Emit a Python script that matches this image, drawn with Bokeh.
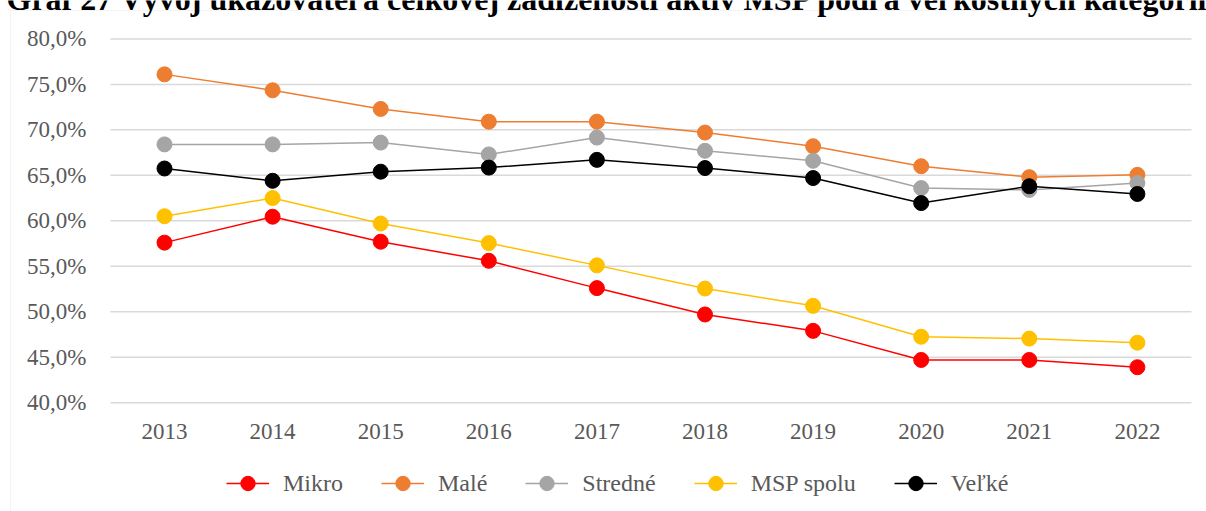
from bokeh.plotting import figure
from bokeh.models import (Range1d, FixedTicker, Legend, LegendItem, Label,
                          BoxAnnotation)
from bokeh.embed import file_html
from bokeh.resources import INLINE

# ---- data ----
years = [2013, 2014, 2015, 2016, 2017, 2018, 2019, 2020, 2021, 2022]
mikro = [57.6, 60.45, 57.7, 55.6, 52.6, 49.7, 47.9, 44.7, 44.7, 43.9]
male = [76.1, 74.35, 72.3, 70.9, 70.9, 69.7, 68.2, 66.0, 64.8, 65.05]
stredne = [68.4, 68.4, 68.6, 67.3, 69.15, 67.7, 66.6, 63.6, 63.4, 64.15]
msp_spolu = [60.5, 62.5, 59.7, 57.55, 55.1, 52.55, 50.65, 47.25, 47.05, 46.6]
velke = [65.75, 64.4, 65.4, 65.85, 66.7, 65.8, 64.7, 61.95, 63.8, 62.95]

series_names = ["Mikro", "Malé", "Stredné", "MSP spolu", "Veľké"]
series_values = [mikro, male, stredne, msp_spolu, velke]
series_colors = ["#FF0000", "#ED7D31", "#A5A5A5", "#FFC000", "#000000"]

y_ticks = [40, 45, 50, 55, 60, 65, 70, 75, 80]
y_tick_labels = ["40,0%", "45,0%", "50,0%", "55,0%", "60,0%", "65,0%",
                 "70,0%", "75,0%", "80,0%"]
x_tick_labels = [str(y) for y in years]

title_text = ("Graf 27 Vývoj ukazovateľa celkovej zadlženosti aktív MSP "
              "podľa veľkostných kategórií")

FONT = "Liberation Serif"
TXT = "#595959"

# ---- layout geometry (pixels) ----
W, H = 1206, 511
PX_YEAR = 108.1          # px per category
X_FIRST = 164.0          # px of first category centre
PX_UNIT = 9.095          # px per percentage point
Y80 = 38.4               # px of the 80 % gridline

x_start = years[0] - X_FIRST / PX_YEAR
x_end = years[0] + (W - X_FIRST) / PX_YEAR
y_top = 80 + Y80 / PX_UNIT
y_bottom = 80 - (H - Y80) / PX_UNIT

p = figure(width=W, height=H, output_backend="svg", toolbar_location=None,
           x_range=Range1d(x_start, x_end), y_range=Range1d(y_bottom, y_top),
           min_border=0)
p.outline_line_color = None
p.background_fill_color = "white"
p.border_fill_color = "white"
p.grid.visible = False

# axes, drawn inside the (full-canvas) frame at fixed places
p.xaxis.fixed_location = y_ticks[0]
p.yaxis.fixed_location = years[0] - 0.5
p.xaxis.ticker = FixedTicker(ticks=years)
p.xaxis.major_label_overrides = dict(zip(years, x_tick_labels))
p.yaxis.ticker = FixedTicker(ticks=y_ticks)
p.yaxis.major_label_overrides = dict(zip(y_ticks, y_tick_labels))
for ax in (p.xaxis[0], p.yaxis[0]):
    ax.axis_line_color = None
    ax.major_tick_line_color = None
    ax.minor_tick_line_color = None
    ax.major_tick_out = 0
    ax.major_tick_in = 0
    ax.major_label_text_font = FONT
    ax.major_label_text_font_size = "23px"
    ax.major_label_text_color = TXT
p.yaxis.major_label_standoff = 24
p.xaxis.major_label_standoff = 21

# horizontal gridlines across the category span
n = len(y_ticks)
p.segment(x0=[years[0] - 0.5] * n, x1=[years[-1] + 0.5] * n,
          y0=y_ticks, y1=y_ticks, line_color="#D9D9D9", line_width=1.5)

items = []
for name, vals, col in zip(series_names, series_values, series_colors):
    r1 = p.line(years, vals, line_color=col, line_width=1.5)
    r2 = p.scatter(years, vals, marker="circle", size=15, fill_color=col,
                   line_color=col)
    items.append(LegendItem(label=name, renderers=[r1, r2]))

legend = Legend(items=items, orientation="horizontal", location=(226, 10),
                glyph_width=43, glyph_height=36, label_standoff=14, spacing=38,
                padding=0, margin=0, border_line_color=None,
                background_fill_alpha=0,
                label_text_font=FONT, label_text_font_size="24px",
                label_text_color=TXT)
p.add_layout(legend, "center")

# chart-area border: only its top and left edges lie inside the picture
p.add_layout(BoxAnnotation(left=10, right=W + 200, top=H - 10, bottom=-200,
                           left_units="screen", right_units="screen",
                           top_units="screen", bottom_units="screen",
                           fill_alpha=0, line_color="#D9D9D9", line_width=1.2))

# title, cut off by the top edge as in the reference
p.add_layout(Label(x=6, y=H + 2, x_units="screen", y_units="screen",
                   text=title_text, text_font=FONT,
                   text_font_style="bold", text_font_size="32px",
                   text_color="#000000", text_baseline="alphabetic"))

open("out.html", "w").write(file_html(p, INLINE))
